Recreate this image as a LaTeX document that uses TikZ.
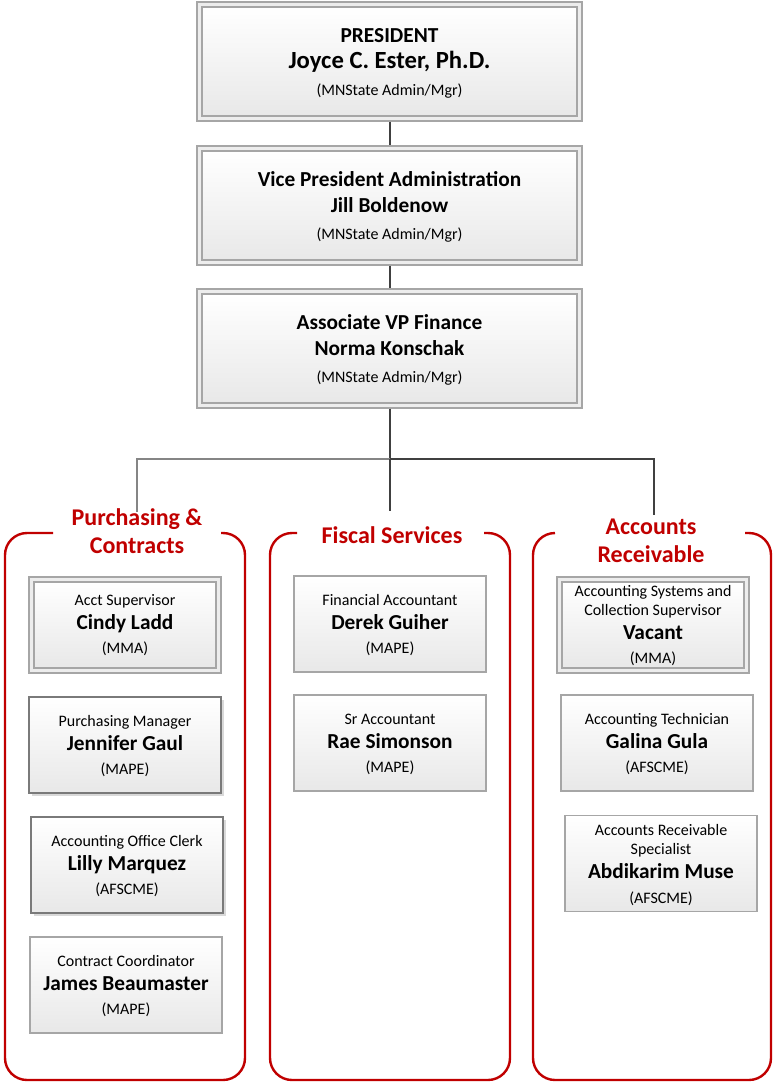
\documentclass[tikz,border=0pt]{standalone}
\usepackage{fontspec}
\setmainfont{Carlito}
\usetikzlibrary{shadows}
\definecolor{deptred}{HTML}{C00000}
\definecolor{lineDark}{HTML}{404040}
\definecolor{lineLight}{HTML}{858585}
\definecolor{boxline}{HTML}{A6A6A6}
\definecolor{boxlineDark}{HTML}{7A7A7A}
\definecolor{bandfill}{HTML}{EDEDED}
\tikzset{
  card/.style={draw=boxline, line width=0.9pt, top color=white, bottom color=black!9,
    minimum width=144pt, minimum height=72pt, inner sep=0pt},
  shadcard/.style={card, draw=boxlineDark,
    drop shadow={shadow xshift=2.2pt, shadow yshift=-2.2pt, fill=black, opacity=0.15}},
  dblouter/.style={draw=boxline, line width=0.9pt, fill=bandfill,
    minimum width=144pt, minimum height=72pt, inner sep=0pt},
  dblinner/.style={draw=boxline, line width=0.9pt, top color=white, bottom color=black!9,
    minimum width=136.5pt, minimum height=64.5pt, inner sep=0pt},
  topouter/.style={draw=boxline, line width=0.9pt, fill=bandfill,
    minimum width=288.75pt, minimum height=89.25pt, inner sep=0pt},
  topinner/.style={draw=boxline, line width=0.9pt, top color=white, bottom color=black!9,
    minimum width=281.25pt, minimum height=81.75pt, inner sep=0pt},
  jobt/.style={anchor=base, inner sep=0pt, font=\fontsize{12}{14}\selectfont},
  persn/.style={anchor=base, inner sep=0pt, font=\fontsize{16}{19}\selectfont\bfseries},
  unionn/.style={anchor=base, inner sep=0pt, font=\fontsize{12}{14}\selectfont},
  headt/.style={anchor=base, inner sep=0pt, font=\fontsize{16}{19}\selectfont\bfseries},
  headbig/.style={anchor=base, inner sep=0pt, font=\fontsize{18.5}{22}\selectfont\bfseries},
  deptt/.style={anchor=base, inner sep=0pt, text=deptred, font=\fontsize{18}{22}\selectfont\bfseries},
  dept/.style={draw=deptred, line width=1.8pt, rounded corners=16.5pt},
  conn/.style={draw=lineDark, line width=1.5pt},
  connl/.style={draw=lineLight, line width=1.5pt},
}
\newcommand\topbox[6]{%
  \node[topouter] (#1) at (389.5,#2+59.5) {};
  \node[topinner] (#1-in) at (389.5,#2+59.5) {};
  \node[headt] (#1-t) at (389.5,#2+40) {#3};
  \node[#6] (#1-n) at (389.5,#2+66.5) {#4};
  \node[unionn] (#1-u) at (389.5,#2+93) {#5};
}
\newcommand\staffcard[7]{%
  \node[#2] (#1) at (#3,#4+48) {};
  \node[jobt] (#1-t) at (#3,#4+29) {#5};
  \node[persn] (#1-n) at (#3,#4+53) {#6};
  \node[unionn] (#1-u) at (#3,#4+77.5) {#7};
}
\begin{document}
\begin{tikzpicture}[x=0.75pt,y=-0.75pt]
\useasboundingbox (0,0) rectangle (773,1083);

% top chain
\topbox{pres}{2}{PRESIDENT}{Joyce C. Ester, Ph.D.}{(MNState Admin/Mgr)}{headbig}
\topbox{vp}{146}{Vice President Administration}{Jill Boldenow}{(MNState Admin/Mgr)}{headt}
\topbox{avp}{289}{Associate VP Finance}{Norma Konschak}{(MNState Admin/Mgr)}{headt}

\draw[conn] (pres.south) -- (vp.north);
\draw[conn] (vp.south) -- (avp.north);

\coordinate (junc) at (389.5,459);
\coordinate (jl) at (137,459);
\coordinate (jr) at (654,459);
\coordinate (endl) at (137,512);
\coordinate (endm) at (389.5,511);
\coordinate (endr) at (654,515);
\draw[conn] (avp.south) -- (junc);
\draw[connl] (junc) -- (jl) -- (endl);
\draw[conn] (junc) -- (jr) -- (endr);
\draw[conn] (junc) -- (endm);

% department containers
\draw[dept] (53,533) -- (5,533) -- (5,1080) -- (245,1080) -- (245,533) -- (221,533);
\draw[dept] (297,533) -- (270,533) -- (270,1080) -- (510,1080) -- (510,533) -- (484,533);
\draw[dept] (555,533) -- (533,533) -- (533,1080) -- (771,1080) -- (771,533) -- (745,533);

\node[deptt] (pc1) at (137,525.5) {Purchasing \&};
\node[deptt] (pc2) at (137,553.5) {Contracts};
\node[deptt] (fs) at (392,543.5) {Fiscal Services};
\node[deptt] (ar1) at (651,534.5) {Accounts};
\node[deptt] (ar2) at (651,562.5) {Receivable};

% Purchasing & Contracts
\node[dblouter] (cindy) at (125,625) {};
\node[dblinner] (cindy-in) at (125,625) {};
\node[jobt] (cindy-t) at (125,605) {Acct Supervisor};
\node[persn] (cindy-n) at (125,629) {Cindy Ladd};
\node[unionn] (cindy-u) at (125,653.5) {(MMA)};

\staffcard{jen}{shadcard}{125}{697}{Purchasing Manager}{Jennifer Gaul}{(MAPE)}
\staffcard{lilly}{shadcard}{127}{817}{Accounting Office Clerk}{Lilly Marquez}{(AFSCME)}
\staffcard{james}{card}{126}{937}{Contract Coordinator}{James Beaumaster}{(MAPE)}

% Fiscal Services
\staffcard{derek}{card}{390}{576}{Financial Accountant}{Derek Guiher}{(MAPE)}
\staffcard{rae}{card}{390}{695}{Sr Accountant}{Rae Simonson}{(MAPE)}

% Accounts Receivable
\node[dblouter] (vac) at (653,625) {};
\node[dblinner] (vac-in) at (653,625) {};
\node[jobt] (vac-t1) at (653,596) {Accounting Systems and};
\node[jobt] (vac-t2) at (653,615) {Collection Supervisor};
\node[persn] (vac-n) at (653,639) {Vacant};
\node[unionn] (vac-u) at (653,663.5) {(MMA)};

\staffcard{galina}{card}{657}{695}{Accounting Technician}{Galina Gula}{(AFSCME)}

\node[card] (abdi) at (661,863.5) {};
\node[jobt] (abdi-t1) at (661,835) {Accounts Receivable};
\node[jobt] (abdi-t2) at (661,854) {Specialist};
\node[persn] (abdi-n) at (661,878) {Abdikarim Muse};
\node[unionn] (abdi-u) at (661,903.5) {(AFSCME)};
\end{tikzpicture}
\end{document}
